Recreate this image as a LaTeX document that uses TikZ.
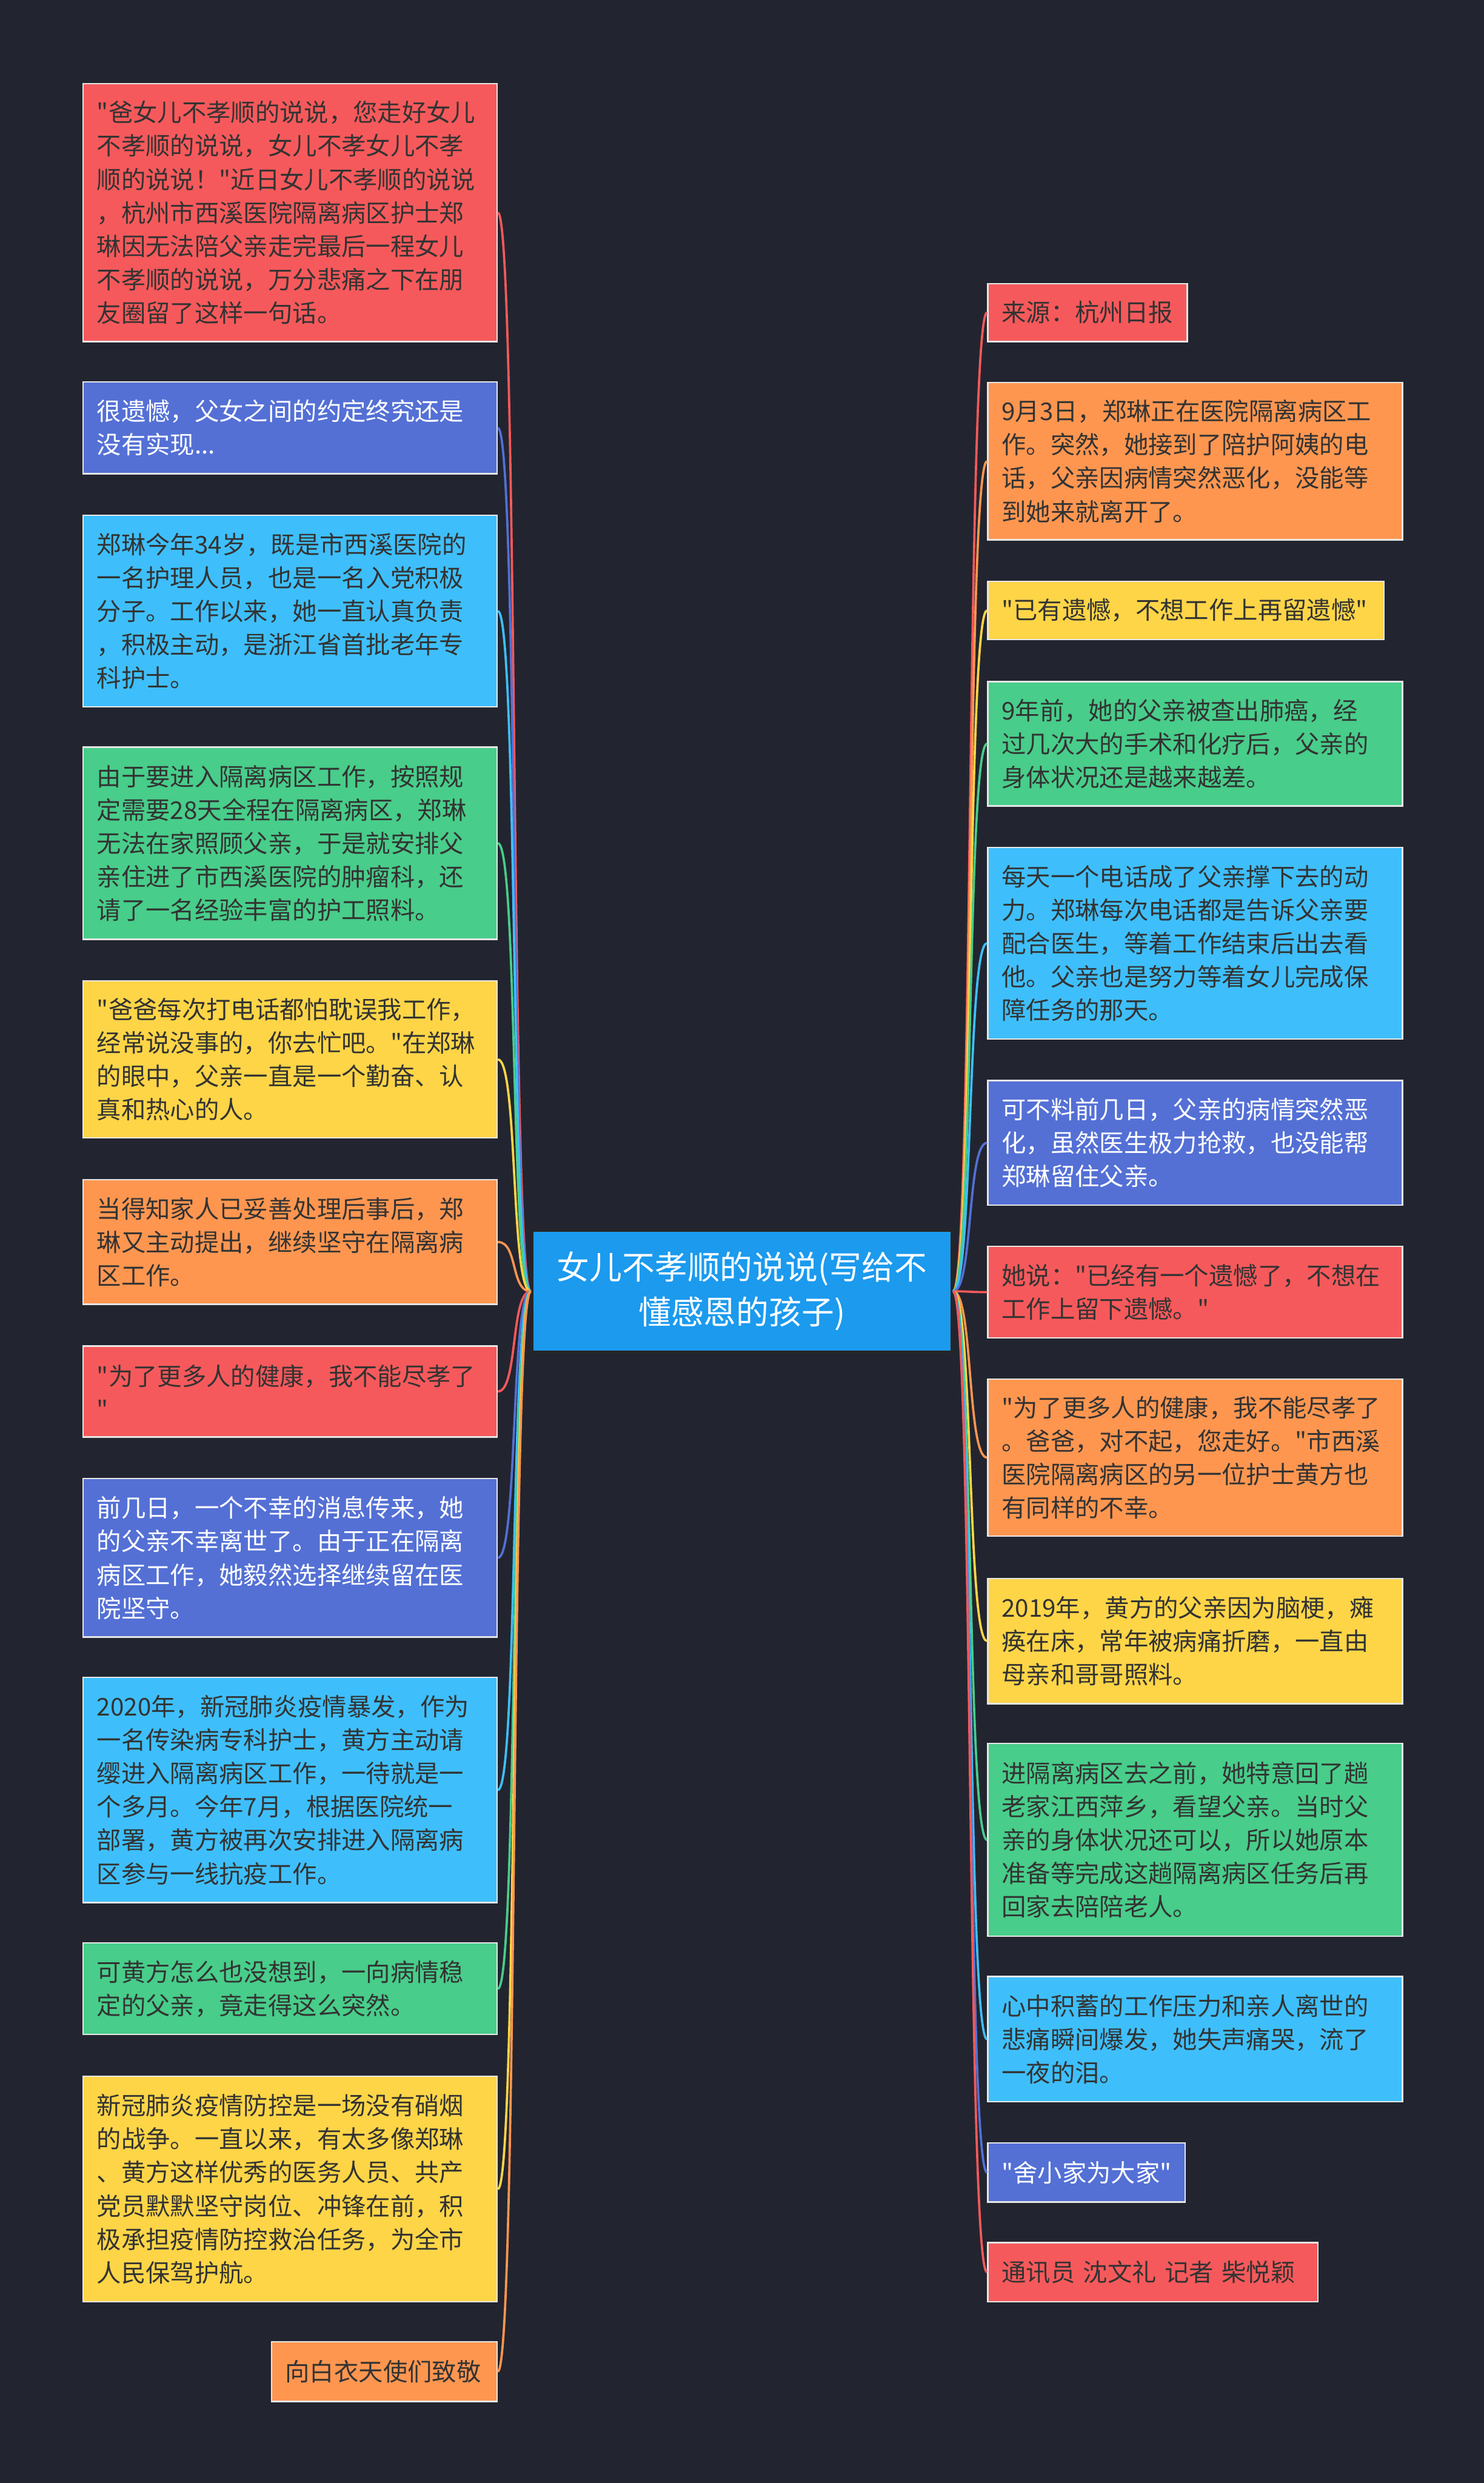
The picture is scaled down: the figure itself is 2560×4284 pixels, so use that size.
\documentclass[tikz,border=0pt]{standalone}
\usepackage{fontspec}
\setmainfont{Noto Sans CJK SC}[Ligatures=TeXOff]
\definecolor{bg}{HTML}{22252F}
\definecolor{cred}{HTML}{F6595B}
\definecolor{cblue}{HTML}{5470D5}
\definecolor{ccyan}{HTML}{3EBFFB}
\definecolor{cgreen}{HTML}{48CD8A}
\definecolor{cyellow}{HTML}{FED547}
\definecolor{corange}{HTML}{FE9650}
\definecolor{ccenter}{HTML}{1B9AEE}
\definecolor{dtext}{HTML}{333333}
\definecolor{cardline}{HTML}{E6E6E6}
\newcommand{\cardnode}[9]{\node[cardbase, fill=#7, text=#8, minimum width=#4, minimum height=#5, text width=#6, anchor=north west] (#1) at (#2,#3) {#9};}
\begin{document}
\begin{tikzpicture}[x=0.01cm, y=-0.01cm,
  cardbase/.style={draw=cardline, line width=0.7pt, inner xsep=0.24cm, inner ysep=0.08cm, align=left, font=\fontsize{12pt}{16.4pt}\selectfont},
  centerbox/.style={draw=black!85, line width=1.2pt, fill=ccenter, text=white, align=center, minimum width=7.24cm, minimum height=2.09cm, font=\fontsize{16pt}{22pt}\selectfont},
  conn/.style={line width=1.1pt}
]
\fill[bg] (0,0) rectangle (2560,4284);
\useasboundingbox (0,0) rectangle (2560,4284);

\node[centerbox] (C) at (1280,2228) {女儿不孝顺的说说(写给不\\懂感恩的孩子)};

% left column
\cardnode{L1}{142}{143}{7.14cm}{4.45cm}{6.66cm}{cred}{dtext}{"爸女儿不孝顺的说说，您走好女儿\\不孝顺的说说，女儿不孝女儿不孝\\顺的说说！"近日女儿不孝顺的说说\\，杭州市西溪医院隔离病区护士郑\\琳因无法陪父亲走完最后一程女儿\\不孝顺的说说，万分悲痛之下在朋\\友圈留了这样一句话。}
\cardnode{L2}{142}{658}{7.14cm}{1.58cm}{6.66cm}{cblue}{white}{很遗憾，父女之间的约定终究还是\\没有实现...}
\cardnode{L3}{142}{888}{7.14cm}{3.30cm}{6.66cm}{ccyan}{dtext}{郑琳今年34岁，既是市西溪医院的\\一名护理人员，也是一名入党积极\\分子。工作以来，她一直认真负责\\，积极主动，是浙江省首批老年专\\科护士。}
\cardnode{L4}{142}{1288}{7.14cm}{3.31cm}{6.66cm}{cgreen}{dtext}{由于要进入隔离病区工作，按照规\\定需要28天全程在隔离病区，郑琳\\无法在家照顾父亲，于是就安排父\\亲住进了市西溪医院的肿瘤科，还\\请了一名经验丰富的护工照料。}
\cardnode{L5}{142}{1691}{7.14cm}{2.71cm}{6.66cm}{cyellow}{dtext}{"爸爸每次打电话都怕耽误我工作，\\经常说没事的，你去忙吧。"在郑琳\\的眼中，父亲一直是一个勤奋、认\\真和热心的人。}
\cardnode{L6}{142}{2034}{7.14cm}{2.15cm}{6.66cm}{corange}{dtext}{当得知家人已妥善处理后事后，郑\\琳又主动提出，继续坚守在隔离病\\区工作。}
\cardnode{L7}{142}{2321}{7.14cm}{1.57cm}{6.66cm}{cred}{dtext}{"为了更多人的健康，我不能尽孝了\\"}
\cardnode{L8}{142}{2550}{7.14cm}{2.73cm}{6.66cm}{cblue}{white}{前几日，一个不幸的消息传来，她\\的父亲不幸离世了。由于正在隔离\\病区工作，她毅然选择继续留在医\\院坚守。}
\cardnode{L9}{142}{2893}{7.14cm}{3.88cm}{6.66cm}{ccyan}{dtext}{2020年，新冠肺炎疫情暴发，作为\\一名传染病专科护士，黄方主动请\\缨进入隔离病区工作，一待就是一\\个多月。今年7月，根据医院统一\\部署，黄方被再次安排进入隔离病\\区参与一线抗疫工作。}
\cardnode{L10}{142}{3351}{7.14cm}{1.58cm}{6.66cm}{cgreen}{dtext}{可黄方怎么也没想到，一向病情稳\\定的父亲，竟走得这么突然。}
\cardnode{L11}{142}{3581}{7.14cm}{3.89cm}{6.66cm}{cyellow}{dtext}{新冠肺炎疫情防控是一场没有硝烟\\的战争。一直以来，有太多像郑琳\\、黄方这样优秀的医务人员、共产\\党员默默坚守岗位、冲锋在前，积\\极承担疫情防控救治任务，为全市\\人民保驾护航。}
\cardnode{L12}{467}{4039}{3.89cm}{1.03cm}{3.41cm}{corange}{dtext}{向白衣天使们致敬}

% right column
\cardnode{R1}{1703}{488}{3.44cm}{1.00cm}{2.96cm}{cred}{dtext}{来源：杭州日报}
\cardnode{R2}{1703}{659}{7.15cm}{2.71cm}{6.67cm}{corange}{dtext}{9月3日，郑琳正在医院隔离病区工\\作。突然，她接到了陪护阿姨的电\\话，父亲因病情突然恶化，没能等\\到她来就离开了。}
\cardnode{R3}{1703}{1002}{6.83cm}{1.00cm}{6.35cm}{cyellow}{dtext}{"已有遗憾，不想工作上再留遗憾"}
\cardnode{R4}{1703}{1175}{7.15cm}{2.14cm}{6.67cm}{cgreen}{dtext}{9年前，她的父亲被查出肺癌，经\\过几次大的手术和化疗后，父亲的\\身体状况还是越来越差。}
\cardnode{R5}{1703}{1461}{7.15cm}{3.30cm}{6.67cm}{ccyan}{dtext}{每天一个电话成了父亲撑下去的动\\力。郑琳每次电话都是告诉父亲要\\配合医生，等着工作结束后出去看\\他。父亲也是努力等着女儿完成保\\障任务的那天。}
\cardnode{R6}{1703}{1863}{7.15cm}{2.15cm}{6.67cm}{cblue}{white}{可不料前几日，父亲的病情突然恶\\化，虽然医生极力抢救，也没能帮\\郑琳留住父亲。}
\cardnode{R7}{1703}{2149}{7.15cm}{1.58cm}{6.67cm}{cred}{dtext}{她说："已经有一个遗憾了，不想在\\工作上留下遗憾。"}
\cardnode{R8}{1703}{2378}{7.15cm}{2.71cm}{6.67cm}{corange}{dtext}{"为了更多人的健康，我不能尽孝了\\。爸爸，对不起，您走好。"市西溪\\医院隔离病区的另一位护士黄方也\\有同样的不幸。}
\cardnode{R9}{1703}{2722}{7.15cm}{2.16cm}{6.67cm}{cyellow}{dtext}{2019年，黄方的父亲因为脑梗，瘫\\痪在床，常年被病痛折磨，一直由\\母亲和哥哥照料。}
\cardnode{R10}{1703}{3007}{7.15cm}{3.32cm}{6.67cm}{cgreen}{dtext}{进隔离病区去之前，她特意回了趟\\老家江西萍乡，看望父亲。当时父\\亲的身体状况还可以，所以她原本\\准备等完成这趟隔离病区任务后再\\回家去陪陪老人。}
\cardnode{R11}{1703}{3409}{7.15cm}{2.16cm}{6.67cm}{ccyan}{dtext}{心中积蓄的工作压力和亲人离世的\\悲痛瞬间爆发，她失声痛哭，流了\\一夜的泪。}
\cardnode{R12}{1703}{3696}{3.40cm}{1.02cm}{2.92cm}{cblue}{white}{"舍小家为大家"}
\cardnode{R13}{1703}{3868}{5.69cm}{1.02cm}{5.21cm}{cred}{dtext}{通讯员 沈文礼 记者 柴悦颖}

% connectors
\foreach \n/\c in {L1/cred, L2/cblue, L3/ccyan, L4/cgreen, L5/cyellow, L6/corange, L7/cred, L8/cblue, L9/ccyan, L10/cgreen, L11/cyellow, L12/corange}
  \draw[conn, draw=\c] (C.west) .. controls +(-35,0) and +(35,0) .. (\n.east);
\foreach \n/\c in {R1/cred, R2/corange, R3/cyellow, R4/cgreen, R5/ccyan, R6/cblue, R7/cred, R8/corange, R9/cyellow, R10/cgreen, R11/ccyan, R12/cblue, R13/cred}
  \draw[conn, draw=\c] (C.east) .. controls +(35,0) and +(-35,0) .. (\n.west);
\end{tikzpicture}
\end{document}
